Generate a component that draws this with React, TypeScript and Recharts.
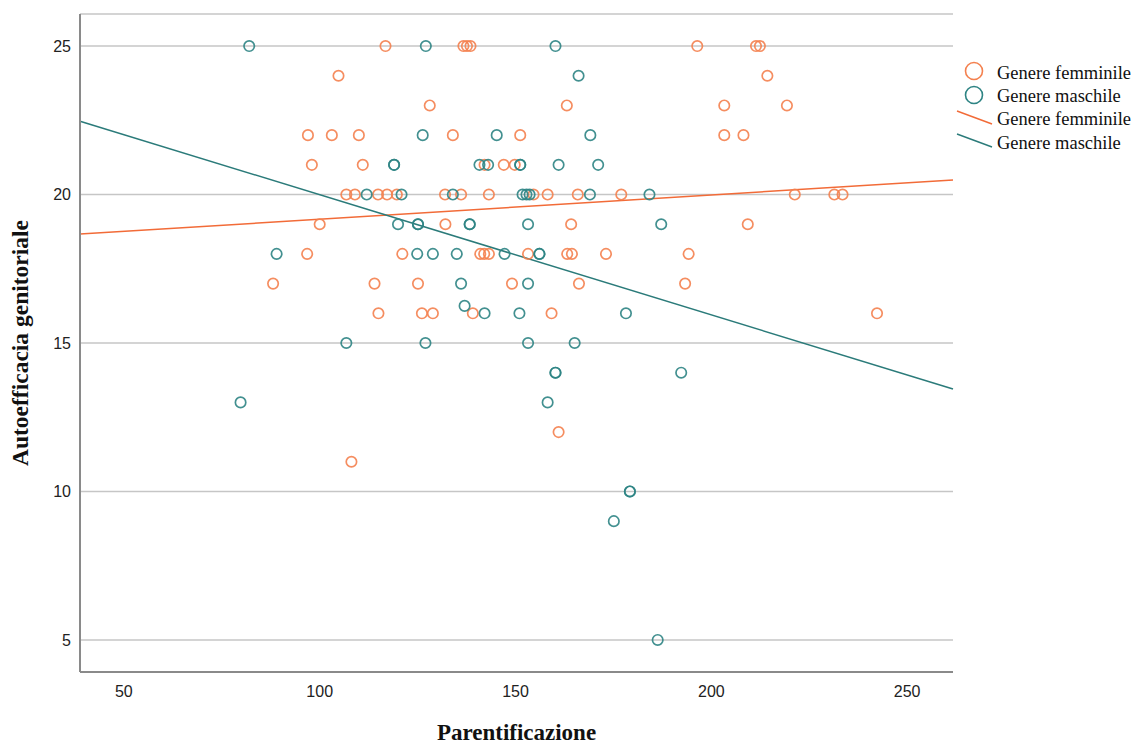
import { ScatterChart, Scatter, XAxis, YAxis, CartesianGrid, ReferenceLine, Legend, Label } from 'recharts'

// Parentificazione (x) / Autoefficacia genitoriale (y)
const femaleX = [
  116.8, 136.7, 137.6, 138.5, 196.4, 211.4, 212.4,
  104.8, 214.3,
  128.1, 163.1, 203.3, 219.3,
  97.0, 103.1, 110.0, 134.0, 151.2, 203.3, 208.2,
  98.0, 111.0, 142.1, 147.0, 149.8,
  106.8, 109.0, 114.9, 117.2, 119.7, 132.0, 136.1, 143.2, 154.6, 158.2, 165.9, 177.0, 221.3, 231.4, 233.5,
  100.0, 132.1, 164.2, 209.3,
  96.8, 121.1, 141.0, 142.0, 143.2, 153.2, 163.2, 164.4, 173.1, 194.2,
  88.1, 114.0, 125.1, 149.1, 166.2, 193.3,
  115.0, 126.1, 128.9, 139.1, 159.2, 242.3,
  161.0,
  108.1,
]
const femaleY = [
  25, 25, 25, 25, 25, 25, 25,
  24, 24,
  23, 23, 23, 23,
  22, 22, 22, 22, 22, 22, 22,
  21, 21, 21, 21, 21,
  20, 20, 20, 20, 20, 20, 20, 20, 20, 20, 20, 20, 20, 20, 20,
  19, 19, 19, 19,
  18, 18, 18, 18, 18, 18, 18, 18, 18, 18,
  17, 17, 17, 17, 17, 17,
  16, 16, 16, 16, 16, 16,
  12,
  11,
]

const maleX = [
  82.0, 127.1, 160.2,
  166.1,
  126.3, 145.2, 169.1,
  119.0, 119.0, 140.8, 143.0, 151.2, 151.2, 161.0, 171.1,
  112.0, 120.9, 134.0, 151.8, 152.8, 153.6, 169.0, 184.2,
  120.0, 125.1, 125.1, 138.3, 138.3, 153.2, 187.2,
  89.0, 124.9, 128.9, 135.0, 147.2, 156.1, 156.1,
  136.1, 153.2,
  137.0,
  142.1, 151.0, 178.2,
  106.8, 127.0, 153.2, 165.1,
  160.2, 160.2, 192.3,
  79.8, 158.2,
  179.2, 179.2,
  175.1,
  186.3,
]
const maleY = [
  25, 25, 25,
  24,
  22, 22, 22,
  21, 21, 21, 21, 21, 21, 21, 21,
  20, 20, 20, 20, 20, 20, 20, 20,
  19, 19, 19, 19, 19, 19, 19,
  18, 18, 18, 18, 18, 18, 18,
  17, 17,
  16.25,
  16, 16, 16,
  15, 15, 15, 15,
  14, 14, 14,
  13, 13,
  10, 10,
  9,
  5,
]

// fit lines, read at the plot edges
const fitFemaleX = [38.8, 261.7]
const fitFemaleY = [18.67, 20.49]
const fitMaleX = [38.8, 261.7]
const fitMaleY = [22.47, 13.45]

const xTicks = [50, 100, 150, 200, 250]
const yTicks = [5, 10, 15, 20, 25]
const xDomain = [38.8, 261.7]
const yDomain = [3.92, 26.08]

const legendLabels = ['Genere femminile', 'Genere maschile', 'Genere femminile', 'Genere maschile']

const ORANGE = '#F4814F'
const ORANGE_LINE = '#F26B38'
const TEAL = '#2E8484'
const TEAL_LINE = '#2B7B7A'
const SERIF = '"Liberation Serif", "Times New Roman", serif'

const femaleData = femaleX.map((x, i) => ({ x, y: femaleY[i] }))
const maleData = maleX.map((x, i) => ({ x, y: maleY[i] }))

const ring = (color: string) => (props: any) => (
  <circle cx={props.cx} cy={props.cy} r={5.2} fill="none" stroke={color} strokeWidth={1.7} strokeOpacity={0.9} />
)

const ChartLegend = () => (
  <svg width={190} height={100} style={{ display: 'block' }}>
    <circle cx={24} cy={13} r={8.5} fill="none" stroke={ORANGE} strokeWidth={1.6} />
    <circle cx={24} cy={37} r={8.5} fill="none" stroke={TEAL} strokeWidth={1.6} />
    <line x1={7} y1={53} x2={42} y2={66} stroke={ORANGE_LINE} strokeWidth={1.4} />
    <line x1={7} y1={76} x2={42} y2={89} stroke={TEAL_LINE} strokeWidth={1.4} />
    {legendLabels.map((t, i) => (
      <text key={i} x={47} y={[14.5, 38, 60.5, 85][i]} dominantBaseline="central" fontFamily={SERIF} fontSize={18.5} fill="#111">
        {t}
      </text>
    ))}
  </svg>
)

const YTitle = (props: any) => {
  const vb = props.viewBox
  const cx = vb.x + 20
  const cy = vb.y + vb.height / 2
  return (
    <text x={cx} y={cy} transform={`rotate(-90 ${cx} ${cy})`} textAnchor="middle" dominantBaseline="central"
      fontFamily={SERIF} fontWeight="bold" fontSize={23.5} fill="#111">
      Autoefficacia genitoriale
    </text>
  )
}

export default function App() {
  return (
    <div style={{ position: 'absolute', left: 0, top: 0 }}>
      <ScatterChart width={1142} height={744} margin={{ top: 14, right: 189, bottom: 0, left: 0 }}>
        <CartesianGrid vertical={false} stroke="#c6c6c6" strokeWidth={1.5} />
        <XAxis type="number" dataKey="x" domain={xDomain} ticks={xTicks} allowDataOverflow height={72}
          tickLine={false} tickMargin={8} axisLine={{ stroke: '#8a8a8a', strokeWidth: 2 }}
          tick={{ fill: '#222', fontSize: 16, fontFamily: '"Liberation Sans", Arial, sans-serif' }}>
          <Label value="Parentificazione" position="insideBottom" offset={4}
            style={{ fontFamily: SERIF, fontWeight: 'bold', fontSize: 23, fill: '#111' }} />
        </XAxis>
        <YAxis type="number" dataKey="y" domain={yDomain} ticks={yTicks} allowDataOverflow width={80}
          tickLine={false} tickMargin={3} axisLine={{ stroke: '#8a8a8a', strokeWidth: 2 }}
          tick={{ fill: '#222', fontSize: 16, fontFamily: '"Liberation Sans", Arial, sans-serif' }}>
          <Label content={YTitle} />
        </YAxis>
        <Legend layout="horizontal" verticalAlign="middle" align="center" content={ChartLegend}
          wrapperStyle={{ left: 950, top: 58, width: 190, height: 100 }} />
        <Scatter name="Genere femminile" data={femaleData} shape={ring(ORANGE)} isAnimationActive={false} />
        <Scatter name="Genere maschile" data={maleData} shape={ring(TEAL)} isAnimationActive={false} />
        <ReferenceLine ifOverflow="visible" stroke={ORANGE_LINE} strokeWidth={1.5}
          segment={[{ x: fitFemaleX[0], y: fitFemaleY[0] }, { x: fitFemaleX[1], y: fitFemaleY[1] }]} />
        <ReferenceLine ifOverflow="visible" stroke={TEAL_LINE} strokeWidth={1.5}
          segment={[{ x: fitMaleX[0], y: fitMaleY[0] }, { x: fitMaleX[1], y: fitMaleY[1] }]} />
      </ScatterChart>
    </div>
  )
}
